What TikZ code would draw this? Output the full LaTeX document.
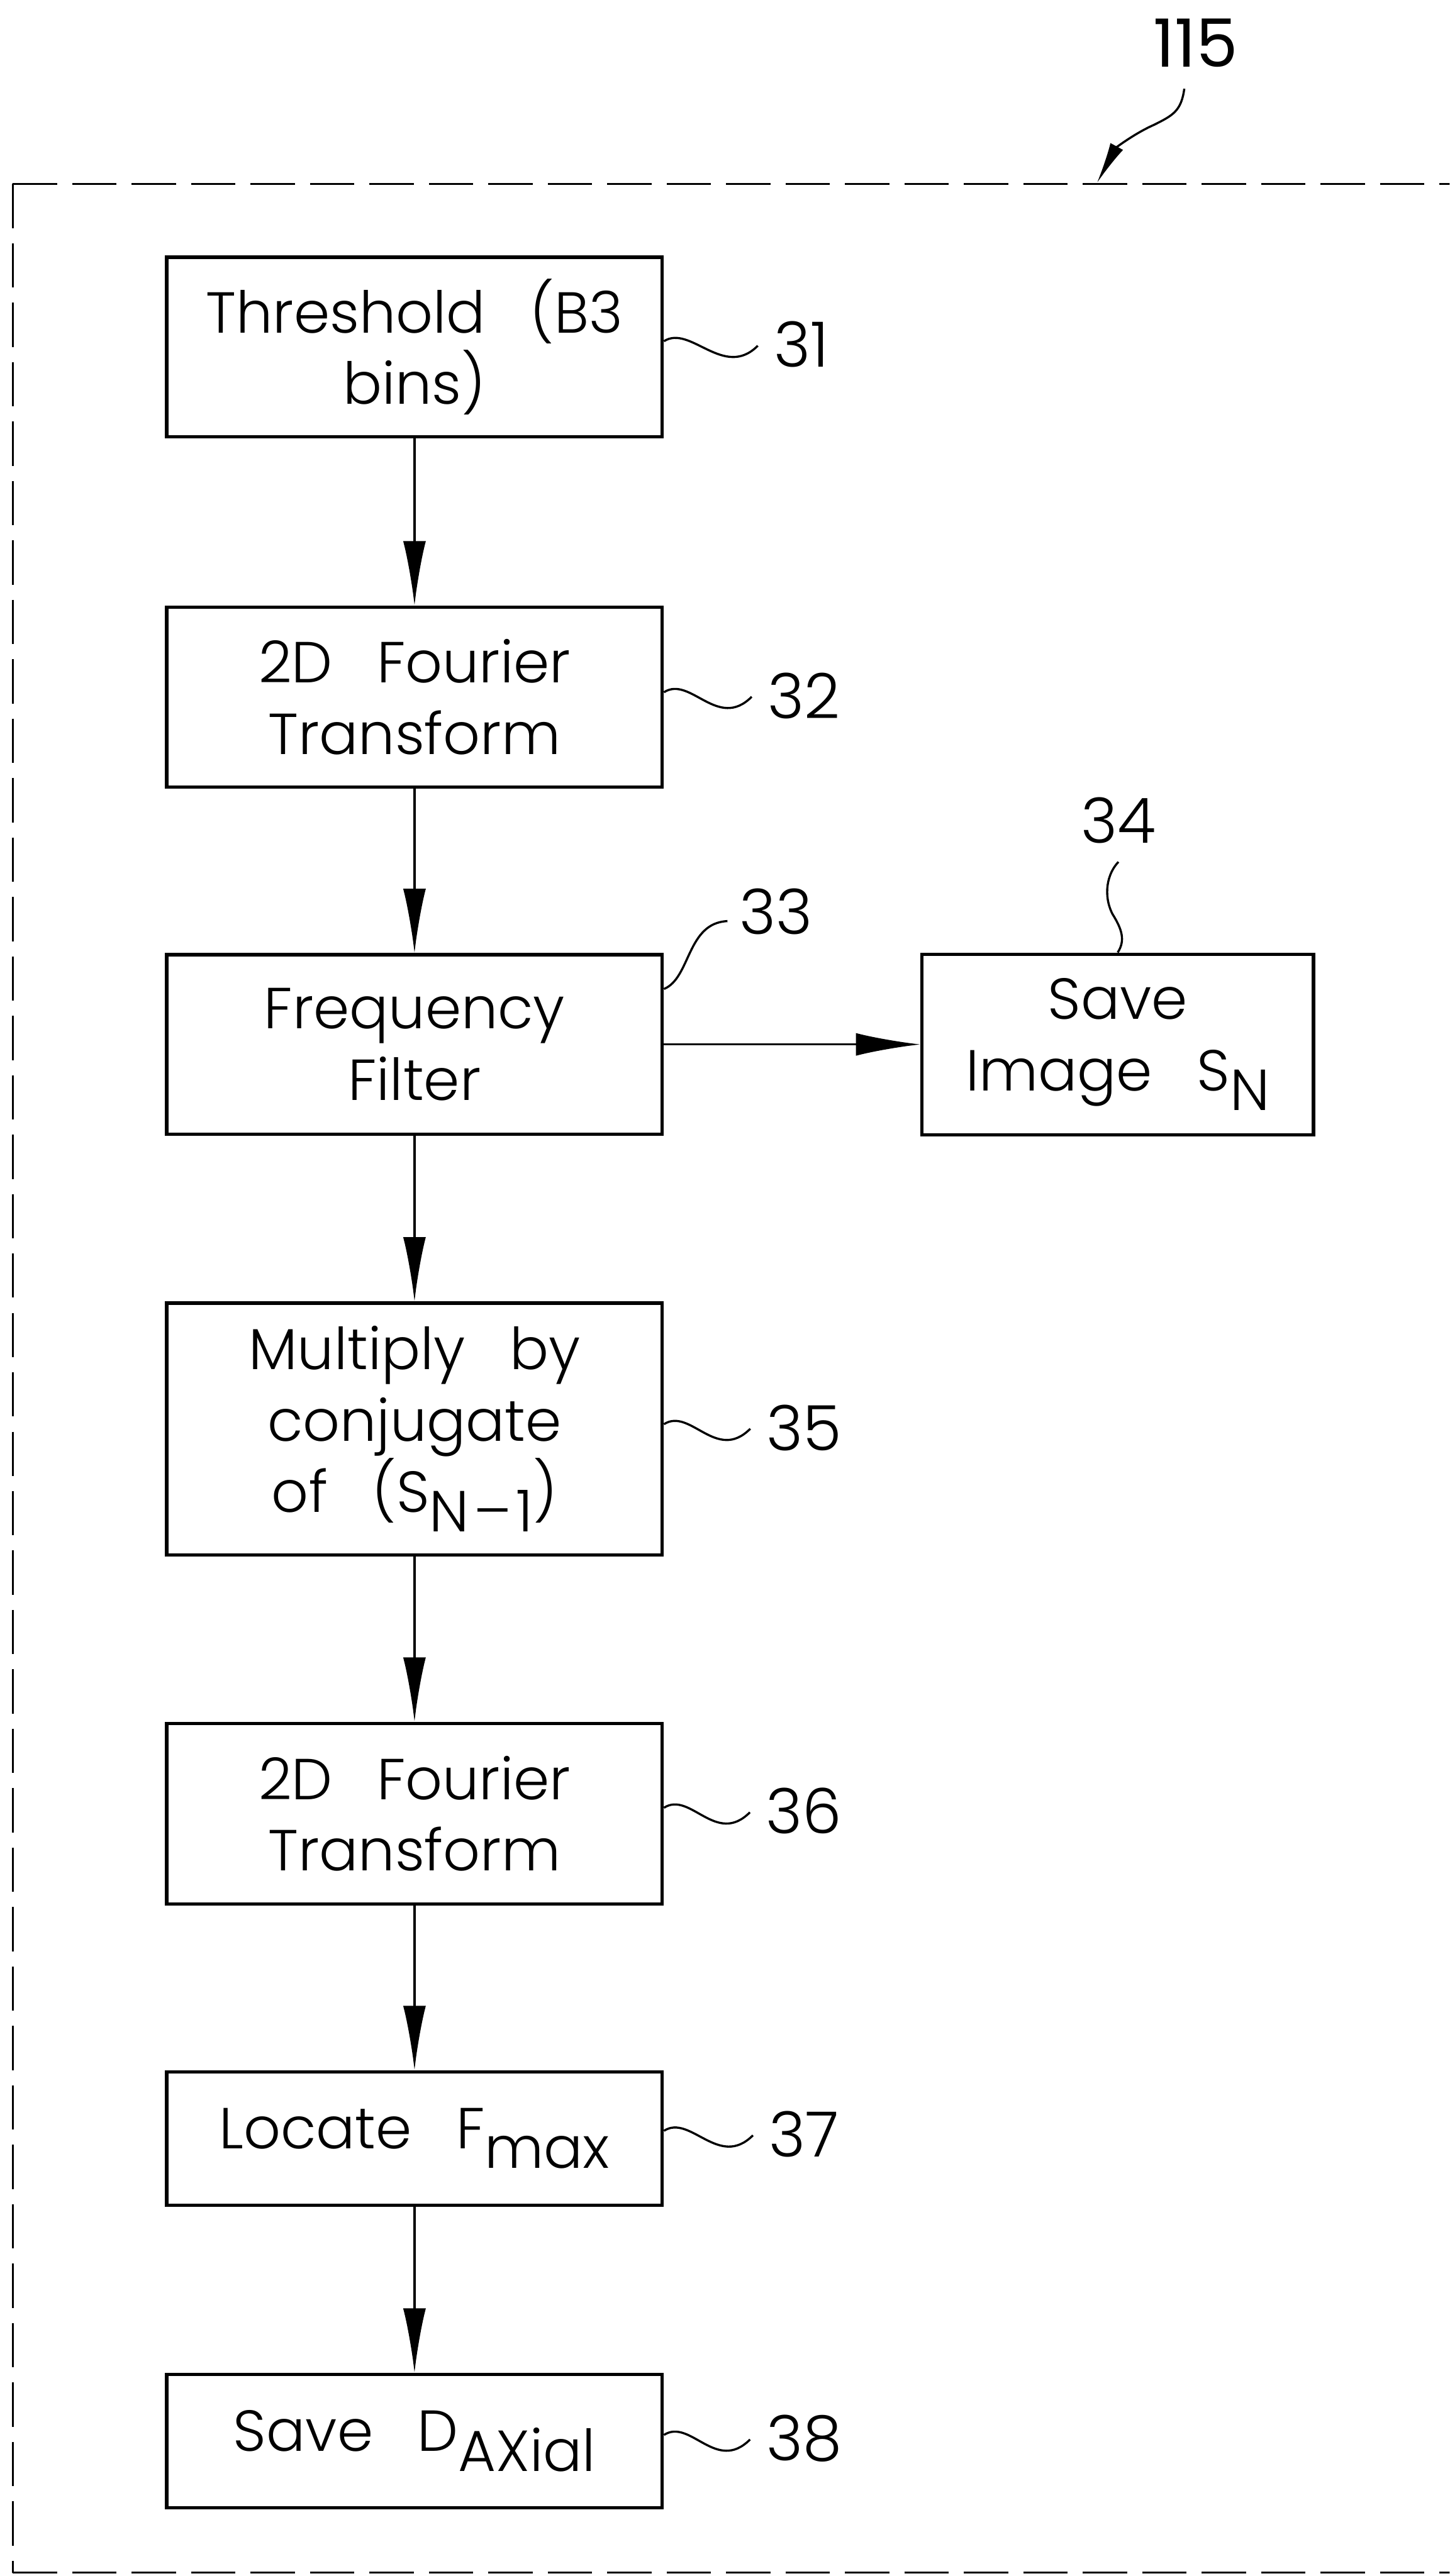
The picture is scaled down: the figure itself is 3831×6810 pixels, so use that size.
\documentclass[tikz,border=0pt]{standalone}
\usepackage{fontspec}
\setmainfont{Poppins Light}
\newfontfamily\flowface{Poppins Light}[WordSpace=2.8]
\newfontfamily\unitface{Poppins}
\usetikzlibrary{arrows.meta,calc}

% text inside the process boxes and the reference numerals
\newcommand\flowfont{\flowface\fontsize{43.5pt}{53.5pt}\selectfont}
\newcommand\reffont{\fontsize{47pt}{50pt}\selectfont}
\newcommand\bigreffont{\unitface\fontsize{50pt}{54pt}\selectfont}
% index letters set at full size, just dropped below the baseline
\newcommand\lowsub[1]{\raisebox{-0.34em}{#1}}

\tikzset{
  stepbox/.style={draw, line width=2.5pt, align=center, inner sep=0pt, font=\flowfont},
  mainbox/.style={stepbox, minimum width=13.09cm},
  flow/.style={line width=1.7pt, -{Latex[length=17mm,width=6mm]}},
  leader/.style={line width=1.6pt},
  refnum/.style={inner sep=0pt, font=\reffont},
  frame/.style={line width=1.6pt, dash pattern=on 1.17cm off 0.4cm},
}

\begin{document}
\begin{tikzpicture}[x=0.01cm, y=-0.01cm]
  \useasboundingbox (0,0) rectangle (3831,6810);
  \clip (0,0) rectangle (3831,6810);

  % dashed enclosure of unit 115 (open to the right)
  \draw[frame] (34,486) -- (3900,486);
  \draw[frame] (34,486) -- (34,6801);
  \draw[frame] (34,6801) -- (3900,6801);

  % process steps
  \node[mainbox, minimum height=4.75cm] (b31) at (1095.5,917.5) {Threshold (B3\\bins)};
  \node[mainbox, minimum height=4.75cm] (b32) at (1095.5,1842.5) {2D Fourier\\Transform};
  \node[mainbox, minimum height=4.74cm] (b33) at (1095.5,2761) {Frequency\\Filter};
  \node[stepbox, minimum width=10.34cm, minimum height=4.77cm] (b34) at (2954,2761) {Save\\Image S\lowsub{N}};
  \node[mainbox, minimum height=6.65cm] (b35) at (1095.5,3777.5) {Multiply by\\conjugate\\of (S\lowsub{N\kern0.08em\textendash\kern0.08em1})};
  \node[mainbox, minimum height=4.77cm] (b36) at (1095.5,4794.5) {2D Fourier\\Transform};
  \node[mainbox, minimum height=3.53cm] (b37) at (1095.5,5653.5) {Locate F\lowsub{max}};
  \node[mainbox, minimum height=3.52cm] (b38) at (1095.5,6453) {Save D\lowsub{AXial}};

  % reference numerals
  \node[refnum, font=\bigreffont] (l115) at (3160,114) {115};
  \node[refnum] (l31) at (2118,911) {31};
  \node[refnum] (l32) at (2125,1839) {32};
  \node[refnum] (l33) at (2051,2410) {33};
  \node[refnum] (l34) at (2956,2168) {34};
  \node[refnum] (l35) at (2125,3774) {35};
  \node[refnum] (l36) at (2125,4788) {36};
  \node[refnum] (l37) at (2125,5642) {37};
  \node[refnum] (l38) at (2125,6446) {38};

  % flow arrows
  \draw[flow] (b31.south) -- (b32.north);
  \draw[flow] (b32.south) -- (b33.north);
  \draw[flow] (b33.east) -- (b34.west);
  \draw[flow] (b33.south) -- (b35.north);
  \draw[flow] (b35.south) -- (b36.north);
  \draw[flow] (b36.south) -- (b37.north);
  \draw[flow] (b37.south) -- (b38.north);

  % wavy leaders from the boxes to their numerals
  \foreach \n in {31,32,35,36,37,38}{
    \draw[leader] ($(b\n.east |- l\n)+(0,-9)$) .. controls +(70,-45) and +(-90,90) .. ($(l\n.west)+(-42,3)$);
  }
  \draw[leader] ($(b33.north east)+(0,95)$) .. controls +(71,-29) and +(-108,5) .. ($(l33.west)+(-31,25)$);
  \draw[leader] ($(l34.south)+(0,49)$) .. controls +(-30,31) and +(-25,-50) .. ($(b34.north)+(-14,-102)$)
                .. controls +(25,40) and +(21,-32) .. (b34.north);

  % leader arrow from 115 onto the enclosure
  \coordinate (t115) at (2899,484);
  \draw[leader, -{Latex[length=11mm,width=3.8mm]}]
    ($(l115.south)+(-30,56)$) .. controls +(-8,59) and +(50,-25) .. ($(t115)+(151,-154)$)
    .. controls +(-50,22) and +(51,-94) .. (t115);
\end{tikzpicture}
\end{document}
